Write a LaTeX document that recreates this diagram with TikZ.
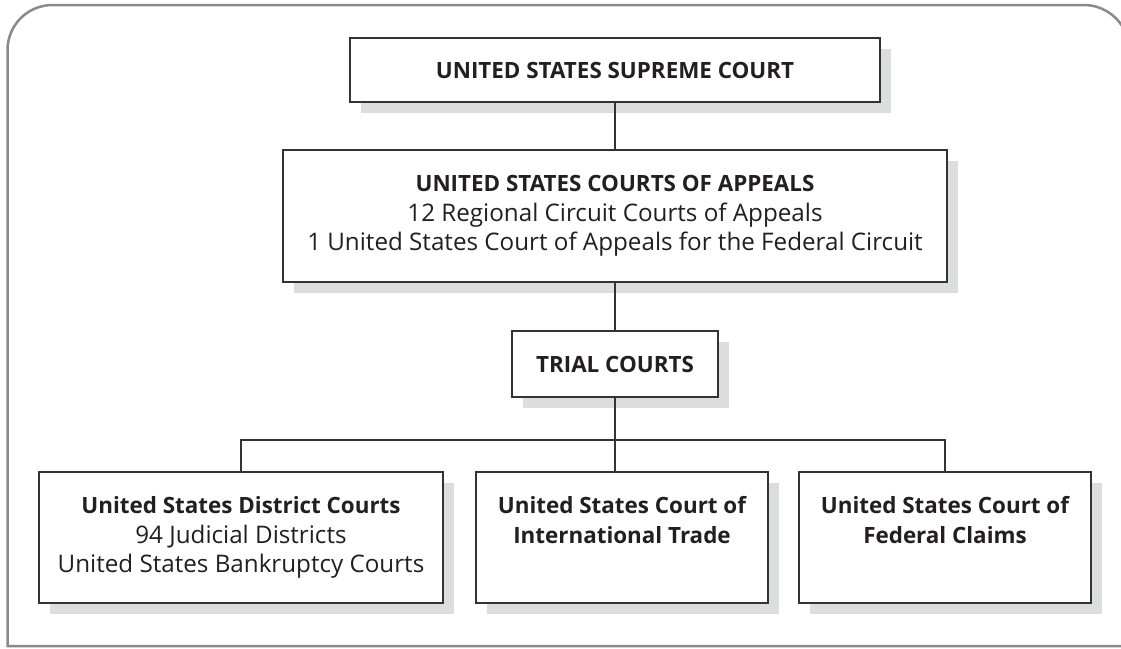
\documentclass[tikz,border=0pt]{standalone}
\usepackage{fontspec}
\setmainfont{Open Sans}
\usetikzlibrary{shadows}
\definecolor{ink}{HTML}{231F20}
\definecolor{framec}{HTML}{8A8A8A}
\definecolor{shadowc}{HTML}{DCDDDE}
\definecolor{boxline}{HTML}{333333}
\newcommand{\bl}[1]{{\fontsize{22.4}{29.5}\selectfont\bfseries #1}}
\begin{document}
\begin{tikzpicture}[x=1pt,y=-1pt,
  box/.style={draw=boxline, line width=1.4pt, fill=white, rectangle, inner sep=0pt,
    drop shadow={shadow xshift=10.5pt, shadow yshift=-11pt, fill=shadowc, opacity=1}},
  txt/.style={text=ink, align=center, font=\fontsize{24.2}{29.5}\selectfont, inner sep=0pt},
  link/.style={draw=boxline, line width=1.3pt}]
\useasboundingbox (0,0) rectangle (1121,648);
% outer frame (its right side lies beyond the picture's edge)
\draw[framec, line width=2.5pt] (1121,646) -- (7.5,646) -- (7.5,50) arc[start angle=180, end angle=270, radius=45]
  -- (1084,5) arc[start angle=270, end angle=330, radius=45];
% boxes
\node[box, minimum width=530pt, minimum height=64pt] (sup) at (615,70) {};
\node[box, minimum width=664pt, minimum height=132pt] (app) at (615,216) {};
\node[box, minimum width=206pt, minimum height=66pt] (trial) at (615,364) {};
\node[box, minimum width=404pt, minimum height=131pt] (dist) at (241,537.5) {};
\node[box, minimum width=292pt, minimum height=131pt] (intl) at (622,537.5) {};
\node[box, minimum width=292pt, minimum height=131pt] (fed) at (945,537.5) {};
% texts
\node[txt] (supt) at (sup) {\bl{UNITED STATES SUPREME COURT}};
\node[txt] (appt) at (app) {\bl{UNITED STATES COURTS OF APPEALS}\\12 Regional Circuit Courts of Appeals\\1 United States Court of Appeals for the Federal Circuit};
\node[txt] (trialt) at (trial) {\bl{TRIAL COURTS}};
\node[txt, anchor=north] (distt) at ([yshift=-25pt]dist.north) {\bl{United States District Courts}\\94 Judicial Districts\\United States Bankruptcy Courts};
\node[txt, anchor=north] (intlt) at ([yshift=-25pt]intl.north) {\bl{United States Court of}\\\bl{International Trade}};
\node[txt, anchor=north] (fedt) at ([yshift=-25pt]fed.north) {\bl{United States Court of}\\\bl{Federal Claims}};
% connectors
\coordinate (bus) at (trial.south |- 0,440);
\draw[link] (sup.south) -- (app.north);
\draw[link] (app.south) -- (trial.north);
\draw[link] (trial.south) -- (trial.south |- intl.north);
\draw[link] (dist.north) -- (dist.north |- bus) -| (fed.north);
\end{tikzpicture}
\end{document}
